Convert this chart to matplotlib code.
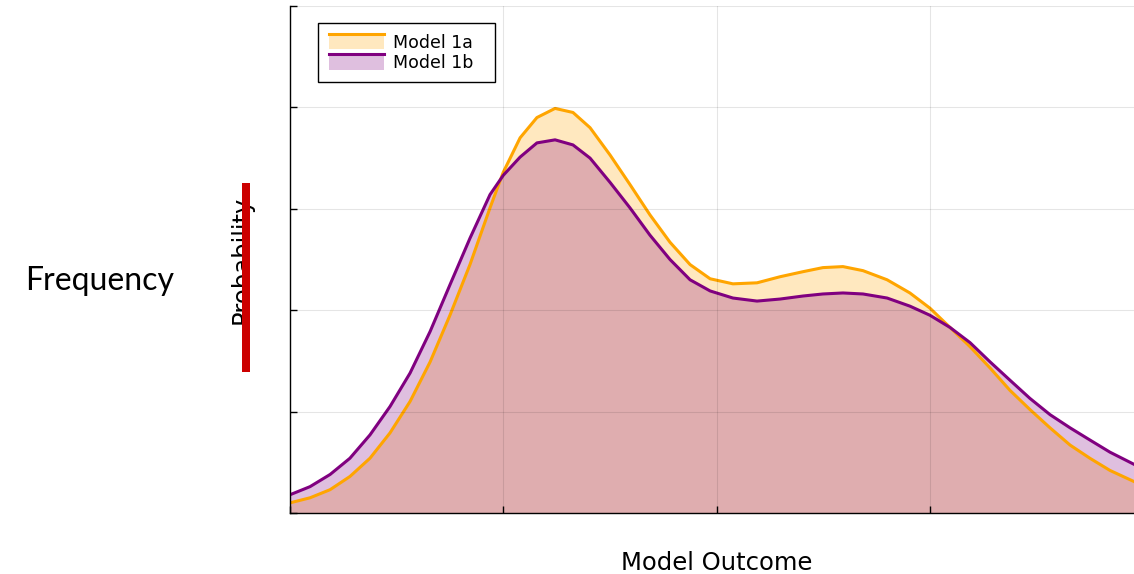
import matplotlib
matplotlib.use("Agg")
import matplotlib.pyplot as plt
from matplotlib.legend_handler import HandlerBase
from matplotlib.lines import Line2D
from matplotlib.patches import Rectangle

# values (x in tick units, y in grid units)
x = [0.000, 0.094, 0.188, 0.281, 0.375, 0.469, 0.563, 0.657, 0.750, 0.844,
     0.938, 1.000, 1.079, 1.158, 1.243, 1.327, 1.407, 1.501, 1.594, 1.688,
     1.782, 1.876, 1.970, 2.077, 2.190, 2.298, 2.406, 2.499, 2.593, 2.687,
     2.800, 2.907, 3.001, 3.095, 3.189, 3.283, 3.376, 3.470, 3.564, 3.658,
     3.751, 3.845, 3.958]
model_1a = [0.10, 0.15, 0.23, 0.36, 0.54, 0.79, 1.10, 1.49, 1.95, 2.45,
            3.01, 3.36, 3.70, 3.90, 3.99, 3.95, 3.80, 3.53, 3.24, 2.94,
            2.67, 2.45, 2.31, 2.26, 2.27, 2.33, 2.38, 2.42, 2.43, 2.39,
            2.30, 2.17, 2.02, 1.83, 1.64, 1.43, 1.21, 1.02, 0.84, 0.67,
            0.54, 0.42, 0.31]
model_1b = [0.18, 0.26, 0.38, 0.54, 0.77, 1.05, 1.38, 1.79, 2.25, 2.71,
            3.14, 3.33, 3.51, 3.65, 3.68, 3.63, 3.50, 3.26, 3.01, 2.74,
            2.50, 2.30, 2.19, 2.12, 2.09, 2.11, 2.14, 2.16, 2.17, 2.16,
            2.12, 2.04, 1.95, 1.83, 1.68, 1.49, 1.31, 1.13, 0.97, 0.84,
            0.72, 0.60, 0.48]
series = [("Model 1a", model_1a, "#FFA500"), ("Model 1b", model_1b, "#800080")]


class FillLineHandler(HandlerBase):
    """Legend key: a light fill with the line along its top edge."""

    def create_artists(self, legend, orig_handle, xdescent, ydescent,
                       width, height, fontsize, trans):
        c = orig_handle.get_color()
        rect = Rectangle((-xdescent, -ydescent), width, height,
                         facecolor=c, alpha=0.25, edgecolor="none",
                         transform=trans)
        line = Line2D([-xdescent, width - xdescent],
                      [height - ydescent] * 2, color=c, lw=2.2,
                      transform=trans)
        return [rect, line]


fig = plt.figure(figsize=(11.34, 5.74), dpi=100)
ax = fig.add_axes([290 / 1134, 61 / 574, 853 / 1134, 507 / 574])

handles = []
for label, y, color in series:
    ax.fill_between(x, 0, y, color=color, alpha=0.25, lw=0)
    h, = ax.plot(x, y, color=color, lw=2.2, label=label + "  ",
                 solid_joinstyle="round")
    handles.append(h)

ax.set_xlim(0, 4)
ax.set_ylim(0, 5)
ax.set_xticks(range(5))
ax.set_yticks(range(6))
ax.tick_params(direction="in", length=5, width=1, labelbottom=False,
               labelleft=False, color="black")
ax.grid(True, color="black", alpha=0.1, lw=0.8)
ax.set_axisbelow(False)
for side in ("top", "right"):
    ax.spines[side].set_visible(False)
for side in ("left", "bottom"):
    ax.spines[side].set_color("black")
    ax.spines[side].set_linewidth(1.0)

ax.set_xlabel("Model Outcome", fontsize=17.5, labelpad=27)
ax.set_ylabel("Probability", fontsize=17.5, labelpad=26)

ax.legend(handles=handles, handler_map={Line2D: FillLineHandler()},
          loc="upper left", bbox_to_anchor=(0.033, 0.966), borderaxespad=0,
          fontsize=12.5, handlelength=3.2, handleheight=1.0,
          handletextpad=0.5, labelspacing=0.12, borderpad=0.6,
          fancybox=False, framealpha=1, edgecolor="black")

fig.text(100 / 1134, 1 - 281 / 574, "Frequency", family="Lato",
         fontsize=23, ha="center", va="center")
fig.add_artist(Rectangle((242 / 1134, 1 - 372 / 574), 8 / 1134, 189 / 574,
                         transform=fig.transFigure, color="#cc0000", lw=0))

fig.savefig("out.png", dpi=100)
